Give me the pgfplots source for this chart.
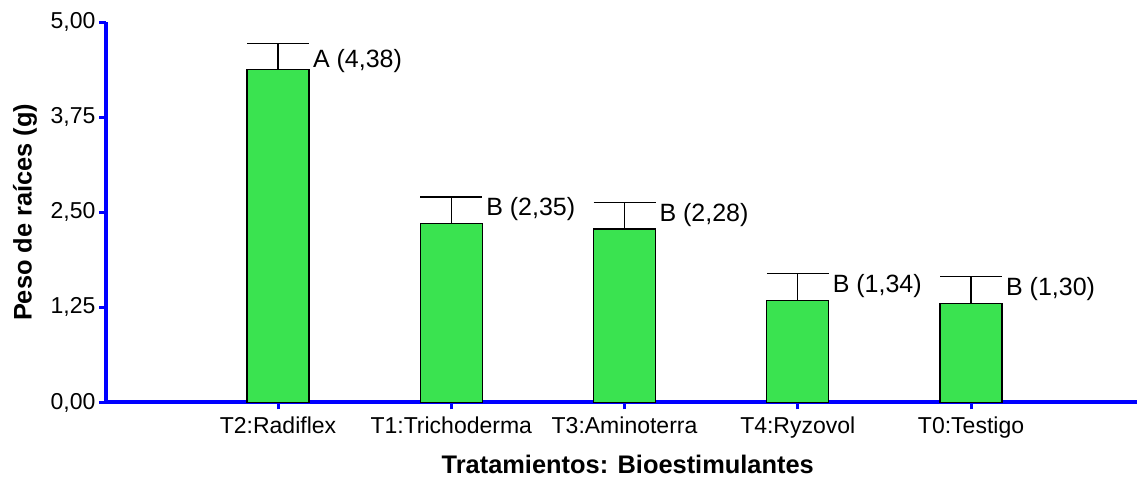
\documentclass[border=0pt]{standalone}
\usepackage{pgfplots}
\pgfplotsset{compat=1.18}
\usepackage{fontspec}
\setmainfont{Liberation Sans}
\definecolor{bargreen}{RGB}{58,227,80}
\definecolor{axisblue}{RGB}{0,0,255}

\begin{document}
\begin{tikzpicture}
\useasboundingbox (-53.25pt,-37.25pt) rectangle (515.25pt,201.25pt);
\begin{axis}[
  at={(0,0)}, anchor=south west,
  width=515.25pt, height=190.25pt, scale only axis,
  xmin=-0.99, xmax=4.958, ymin=0, ymax=5,
  axis lines*=left,
  axis line style={axisblue, line width=2pt},
  ytick={0,1.25,2.5,3.75,5},
  xtick={0,1,2,3,4},
  xticklabels={T2:Radiflex, T1:Trichoderma, T3:Aminoterra, T4:Ryzovol, T0:Testigo},
  tick align=outside, major tick length=3.5pt,
  tick style={axisblue, line width=1.5pt},
  yticklabel style={xshift=1.5pt, /pgf/number format/.cd, fixed, fixed zerofill, precision=2, use comma},
  /pgf/number format/assume math mode=true,
  tick label style={font=\fontsize{11.5}{13}\selectfont, text=black},
  label style={font=\fontsize{12.7}{15}\selectfont\bfseries},
  xlabel style={yshift=-1.8pt, xshift=3pt},
  xlabel={Tratamientos: Bioestimulantes},
  ylabel={Peso de raíces (g)},
  clip=false,
]
\addplot[ybar, bar width=31pt, fill=bargreen, draw=black, line width=0.6pt,
  error bars/.cd, y dir=plus, y explicit,
  error bar style={black, line width=0.6pt},
  error mark options={black, rotate=90, mark size=15.5pt, line width=0.6pt}]
  coordinates {
    (0,4.38) +- (0,0.34)
    (1,2.35) +- (0,0.35)
    (2,2.28) +- (0,0.35)
    (3,1.34) +- (0,0.35)
    (4,1.30) +- (0,0.36)
  };
\begin{scope}[every node/.style={anchor=west, inner sep=0pt, font=\fontsize{12.5}{15}\selectfont}]
  \node at (axis cs:0.2,4.49) {A (4,38)};
  \node at (axis cs:1.2,2.54) {B (2,35)};
  \node at (axis cs:2.2,2.46) {B (2,28)};
  \node at (axis cs:3.2,1.53) {B (1,34)};
  \node at (axis cs:4.2,1.49) {B (1,30)};
\end{scope}
\end{axis}
\end{tikzpicture}
\end{document}
